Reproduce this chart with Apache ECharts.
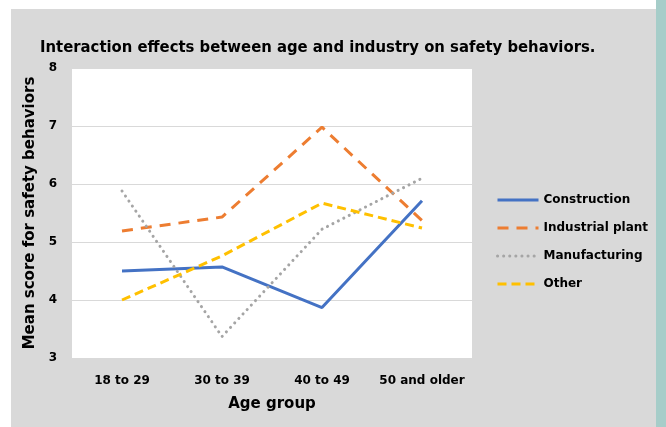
<!DOCTYPE html>
<html>
<head>
<meta charset="utf-8">
<script src="https://cdn.jsdelivr.net/npm/echarts@6/dist/echarts.min.js"></script>
<style>
html,body{margin:0;padding:0;background:#fff;}
#c{width:666px;height:427px;}
</style>
</head>
<body>
<div id="c"></div>
<script>
const categories = ['18 to 29', '30 to 39', '40 to 49', '50 and older'];
const construction = [4.50, 4.57, 3.87, 5.71];
const industrialPlant = [5.19, 5.43, 6.98, 5.37];
const manufacturing = [5.88, 3.37, 5.22, 6.10];
const other = [4.00, 4.76, 5.67, 5.24];
const yTicks = [3, 4, 5, 6, 7, 8];

const chart = echarts.init(document.getElementById('c'));
const bold = {fontFamily: 'DejaVu Sans', fontWeight: 'bold', color: '#000'};

function mk(name, data, color, type, cap) {
  return {
    name, type: 'line', data, symbol: 'none', smooth: false,
    lineStyle: {color, width: 3, type, cap: cap || 'butt'},
    itemStyle: {color},
    emphasis: {disabled: true}
  };
}

chart.setOption({
  animation: false,
  backgroundColor: 'transparent',
  graphic: [
    {type: 'rect', z: -10, shape: {x: 11, y: 9, width: 645, height: 418}, style: {fill: '#d9d9d9'}},
    {type: 'rect', z: -10, shape: {x: 656, y: 0, width: 10, height: 427}, style: {fill: '#a6cdc9'}}
  ],
  title: {
    text: 'Interaction effects between age and industry on safety behaviors.',
    left: 35, top: 34,
    textStyle: {fontFamily: 'Liberation Sans Narrow, DejaVu Sans Condensed, Roboto', fontWeight: 'bold', fontSize: 16.5, color: '#000'}
  },
  legend: {
    orient: 'vertical', left: 491, top: 189,
    itemWidth: 41, itemHeight: 12, itemGap: 16,
    itemStyle: {opacity: 0},
    lineStyle: {width: 3},
    textStyle: Object.assign({fontSize: 12}, bold),
    data: ['Construction', 'Industrial plant', 'Manufacturing', 'Other']
  },
  grid: {left: 72, top: 68, width: 400, height: 290, show: true, backgroundColor: '#fff', borderWidth: 0},
  xAxis: {
    type: 'category', data: categories, boundaryGap: true,
    axisLine: {show: false}, axisTick: {show: false},
    axisLabel: Object.assign({fontSize: 12, margin: 17, interval: 0}, bold),
    name: 'Age group', nameLocation: 'middle', nameGap: 39,
    nameTextStyle: Object.assign({fontSize: 15}, bold)
  },
  yAxis: {
    type: 'value', min: yTicks[0], max: yTicks[yTicks.length - 1], interval: 1,
    axisLine: {show: false}, axisTick: {show: false},
    axisLabel: Object.assign({fontSize: 12, margin: 15}, bold),
    splitLine: {lineStyle: {color: '#d9d9d9', width: 1}},
    name: 'Mean score for safety behaviors', nameLocation: 'middle', nameGap: 29,
    nameTextStyle: Object.assign({fontSize: 15}, bold)
  },
  series: [
    mk('Construction', construction, '#4472c4', 'solid'),
    mk('Industrial plant', industrialPlant, '#ed7d31', [11, 8]),
    mk('Manufacturing', manufacturing, '#a5a5a5', [0.1, 6], 'round'),
    mk('Other', other, '#ffc000', [9, 5])
  ]
});
</script>
</body>
</html>
